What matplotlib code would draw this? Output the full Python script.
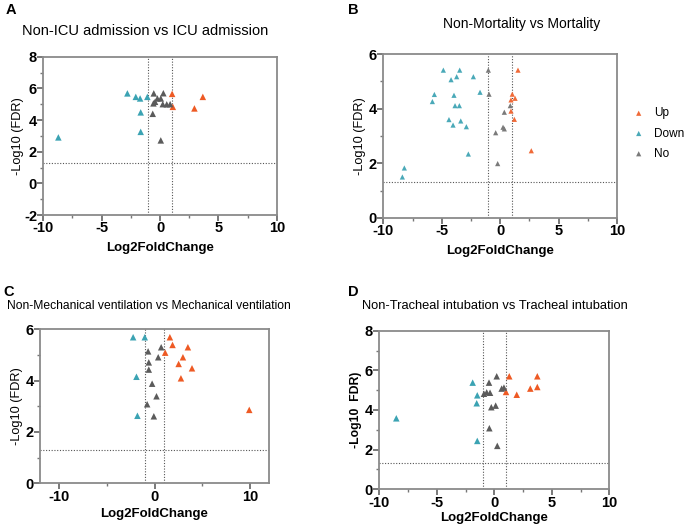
import matplotlib
matplotlib.use("Agg")
import matplotlib.pyplot as plt
from matplotlib.ticker import MultipleLocator
import numpy as np

plt.rcParams["font.family"] = ["Liberation Sans", "DejaVu Sans"]
plt.rcParams["axes.unicode_minus"] = False

# ---- data ----
GROUPS = ["Up", "Down", "No"]

# A: Non-ICU admission vs ICU admission
a_lfc = [1.03, 1.09, 2.94, 3.66,
         -8.71, -2.8, -2.08, -1.71, -1.09, -1.66, -1.66,
         -0.54, 0.28, -0.23, 0.06, -0.43, -0.57, 0.23, 0.57, 0.86, -0.63, 0.06]
a_fdr = [5.66, 4.84, 4.74, 5.47,
         2.91, 5.69, 5.47, 5.37, 5.47, 4.49, 3.26,
         5.69, 5.7, 5.37, 5.37, 5.16, 5.06, 5.01, 5.0, 5.01, 4.4, 2.72]
a_grp = ["Up"] * 4 + ["Down"] * 7 + ["No"] * 11

# B: Non-Mortality vs Mortality
b_lfc = [1.53, 1.04, 1.28, 0.93, 0.93, 1.22, 2.67,
         -4.86, -3.46, -4.2, -3.72, -2.29, -5.63, -3.95, -5.8, -1.72, -3.86, -3.49,
         -4.38, -3.37, -4.03, -2.89, -2.72, -8.2, -8.37,
         -1.01, -0.95, 0.87, 0.36, 0.25, 0.36, -0.38, -0.21]
b_fdr = [5.41, 4.53, 4.38, 4.32, 3.91, 3.61, 2.46,
         5.41, 5.41, 5.06, 5.17, 5.17, 4.52, 4.49, 4.26, 4.6, 4.11, 4.11,
         3.6, 3.55, 3.4, 3.34, 2.34, 1.83, 1.5,
         5.41, 4.53, 4.11, 3.87, 3.32, 3.26, 3.12, 1.99]
b_grp = ["Up"] * 7 + ["Down"] * 18 + ["No"] * 8

# C: Non-Mechanical ventilation vs Mechanical ventilation
c_lfc = [1.61, 1.89, 1.12, 3.5, 2.98, 2.53, 3.93, 2.77, 9.93,
         -2.24, -1.02, -1.89, -1.79,
         0.7, -0.67, 0.39, -0.6, -0.6, -0.25, 0.21, -0.77, -0.07]
c_fdr = [5.69, 5.39, 5.09, 5.3, 4.91, 4.65, 4.48, 4.09, 2.86,
         5.69, 5.69, 4.15, 2.63,
         5.3, 5.14, 4.91, 4.71, 4.43, 3.88, 3.39, 3.08, 2.61]
c_grp = ["Up"] * 9 + ["Down"] * 4 + ["No"] * 9

# D: Non-Tracheal intubation vs Tracheal intubation
d_lfc = [1.3, 1.02, 1.95, 3.13, 3.74, 3.74,
         -8.52, -1.88, -1.48, -1.53, -1.48,
         0.21, -0.46, -0.9, -0.66, -0.37, 0.64, 0.84, -0.26, 0.12, -0.43, 0.26]
d_fdr = [5.7, 4.91, 4.77, 5.08, 5.7, 5.16,
         3.58, 5.38, 4.74, 4.34, 2.44,
         5.7, 5.38, 4.82, 4.89, 4.87, 5.08, 5.13, 4.14, 4.22, 3.08, 2.19]
d_grp = ["Up"] * 6 + ["Down"] * 5 + ["No"] * 11

COLORS = {"Up": "#EE5A24", "Down": "#3BA3B3", "No": "#5B5B5B"}
COLORS_B = {"Up": "#F06A38", "Down": "#4AA9B8", "No": "#7A7A7A"}


def volcano(ax, lfc, fdr, grp, colors, size, xlim, ylim, xmaj, xmin, bold_ylabel=False,
            ylabel="-Log10 (FDR)", xpad=5, ypad=2):
    lfc = np.array(lfc)
    fdr = np.array(fdr)
    grp = np.array(grp)
    for g in GROUPS:
        m = grp == g
        ax.scatter(lfc[m], fdr[m], marker="^", s=size, color=colors[g],
                   edgecolors="none", label=g, zorder=3)
    ax.axvline(-1, color="#555555", ls=(0, (1, 1.5)), lw=0.8, zorder=1)
    ax.axvline(1, color="#555555", ls=(0, (1, 1.5)), lw=0.8, zorder=1)
    ax.axhline(-np.log10(0.05), color="#555555", ls=(0, (1, 1.5)), lw=0.8, zorder=1)
    ax.set_xlim(*xlim)
    ax.set_ylim(*ylim)
    ax.xaxis.set_major_locator(MultipleLocator(xmaj))
    ax.xaxis.set_minor_locator(MultipleLocator(xmin))
    ax.yaxis.set_major_locator(MultipleLocator(2))
    ax.yaxis.set_minor_locator(MultipleLocator(1))
    for sp in ax.spines.values():
        sp.set_color("#8a8a8a")
        sp.set_linewidth(1.3)
    ax.tick_params(which="major", direction="out", length=4, width=1.1,
                   color="#555555", labelsize=10.5, pad=0.5)
    ax.tick_params(which="minor", direction="out", length=2.5, width=1.0,
                   color="#777777")
    for lab in ax.get_xticklabels() + ax.get_yticklabels():
        lab.set_fontweight("bold")
    ax.set_xlabel("Log2FoldChange", fontsize=9.5, fontweight="bold", labelpad=xpad)
    ax.set_ylabel(ylabel, fontsize=8.8 if bold_ylabel else 9.2,
                  fontweight="bold" if bold_ylabel else "normal", labelpad=ypad)


fig = plt.figure(figsize=(6.85, 5.26), dpi=100)
fig.patch.set_facecolor("white")

ax_a = fig.add_axes([0.0632, 0.591, 0.341, 0.301])
ax_b = fig.add_axes([0.5596, 0.5856, 0.341, 0.3117])
ax_c = fig.add_axes([0.0584, 0.0812, 0.3343, 0.2928])
ax_d = fig.add_axes([0.5537, 0.0698, 0.3358, 0.3015])

volcano(ax_a, a_lfc, a_fdr, a_grp, COLORS, 22, (-10, 10), (-2, 8), 5, 2.5, ypad=0)
volcano(ax_b, b_lfc, b_fdr, b_grp, COLORS_B, 14, (-10, 10), (0, 6), 5, 2.5)
volcano(ax_c, c_lfc, c_fdr, c_grp, COLORS, 22, (-12, 12), (0, 6), 10, 5, xpad=3)
volcano(ax_d, d_lfc, d_fdr, d_grp, COLORS, 22, (-10, 10), (0, 8), 5, 2.5,
        bold_ylabel=True, ylabel="-Log10  FDR)", xpad=2)

ax_b.legend(loc="center left", bbox_to_anchor=(0.91, 0.746), bbox_transform=fig.transFigure,
            frameon=False, fontsize=8.5, handletextpad=0.8, handlelength=1.0,
            labelspacing=0.7, borderpad=0.3, markerscale=1.0)

# titles
fig.text(0.212, 0.941, "Non-ICU admission vs ICU admission", ha="center", va="center",
         fontsize=10.5)
fig.text(0.762, 0.954, "Non-Mortality vs Mortality", ha="center", va="center", fontsize=10)
fig.text(0.218, 0.419, "Non-Mechanical ventilation vs Mechanical ventilation", ha="center",
         va="center", fontsize=8.7)
fig.text(0.722, 0.419, "Non-Tracheal intubation vs Tracheal intubation", ha="center",
         va="center", fontsize=9.3)

# panel letters
for x, y, s in [(0.008, 0.981, "A"), (0.508, 0.981, "B"), (0.005, 0.444, "C"), (0.508, 0.444, "D")]:
    fig.text(x, y, s, fontsize=10.5, fontweight="bold", ha="left", va="center")

fig.savefig("out.png", dpi=100)
